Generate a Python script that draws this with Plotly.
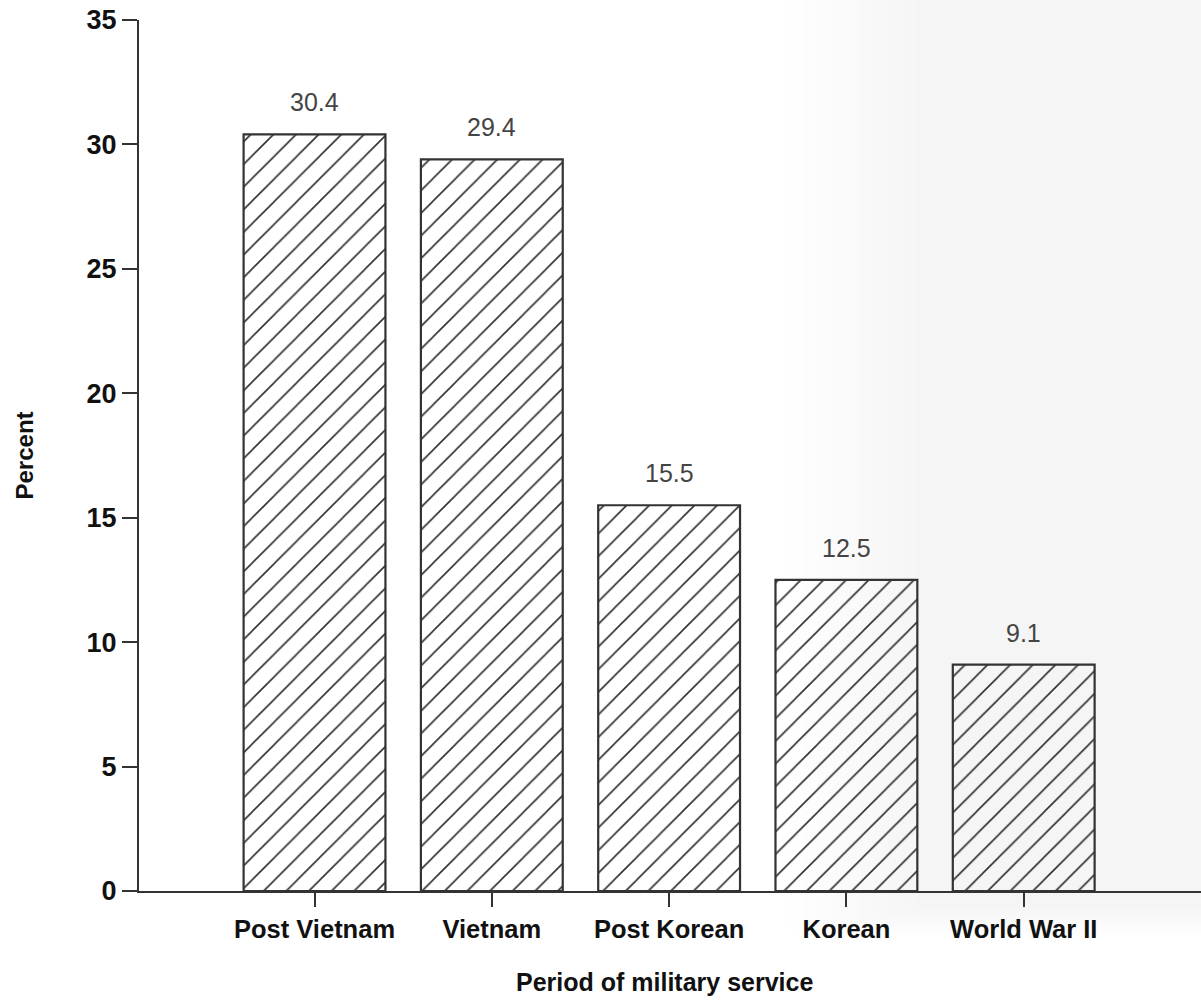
import plotly.graph_objects as go

categories = ["Post Vietnam", "Vietnam", "Post Korean", "Korean", "World War II"]
percent = [30.4, 29.4, 15.5, 12.5, 9.1]
value_labels = ["30.4", "29.4", "15.5", "12.5", "9.1"]
y_ticks = [0, 5, 10, 15, 20, 25, 30, 35]

W, H = 1201, 1001
ML, MR, MT, MB = 139, 0, 20, 110
PW = W - ML - MR
PH = H - MT - MB

def px_x(px):
    return (px - ML) / PW

def px_y(py):
    return (H - MB - py) / PH

ink = "#333333"
font_family = "Liberation Sans, Arial, Helvetica, sans-serif"

fig = go.Figure()
fig.add_trace(go.Bar(
    x=categories,
    y=percent,
    marker=dict(
        color="rgba(255,255,255,0)",
        line=dict(color=ink, width=2.2),
        pattern=dict(shape="/", size=16, solidity=0.1,
                     fgcolor="#303030", fgopacity=1,
                     bgcolor="rgba(255,255,255,0)",
                     fillmode="overlay"),
    ),
    hoverinfo="skip",
))

annotations = []
for c, v, t in zip(categories, percent, value_labels):
    annotations.append(dict(
        x=c, y=v, xref="x", yref="y", text=t, showarrow=False,
        yanchor="middle", yshift=32,
        font=dict(family=font_family, size=25, color="#444444"),
    ))

annotations.append(dict(
    x=px_x(24), y=0.5, xref="paper", yref="paper", text="Percent",
    showarrow=False, textangle=-90, xanchor="center", yanchor="middle",
    font=dict(family=font_family, size=24, color="#111", weight="bold"),
))
annotations.append(dict(
    x=px_x(664), y=px_y(982), xref="paper", yref="paper",
    text="Period of military service", showarrow=False,
    xanchor="center", yanchor="middle",
    font=dict(family=font_family, size=25, color="#111", weight="bold"),
))

# faint grey paper tone on the right side of the scan
shapes = []
n = 10
for i in range(n):
    x0 = 790 + i * 14
    shapes.append(dict(
        type="rect", xref="paper", yref="paper",
        x0=px_x(x0), x1=px_x(W + 5), y0=px_y(935 - i * 3), y1=px_y(-5),
        fillcolor="rgba(0,0,0,0.0058)", line=dict(width=0), layer="below",
    ))

fig.update_layout(
    width=W, height=H,
    margin=dict(l=ML, r=MR, t=MT, b=MB),
    paper_bgcolor="white", plot_bgcolor="rgba(0,0,0,0)",
    bargap=0.2,
    showlegend=False,
    annotations=annotations,
    shapes=shapes,
    xaxis=dict(
        type="category", range=[-0.99, 5.0],
        showline=True, linecolor=ink, linewidth=2.2,
        ticks="outside", ticklen=14, tickwidth=2, tickcolor=ink,
        showgrid=False, zeroline=False,
        tickfont=dict(family=font_family, size=25.5, color="#111", weight="bold"),
    ),
    yaxis=dict(
        range=[0, 35], tickvals=y_ticks,
        showline=True, linecolor=ink, linewidth=2.2,
        ticks="outside", ticklen=15, tickwidth=2, tickcolor=ink,
        showgrid=False, zeroline=False,
        tickfont=dict(family=font_family, size=27, color="#111", weight="bold"),
    ),
)

fig.write_html(
    "out.html",
    config={"displayModeBar": False},
    post_script="document.body.style.margin='0';document.body.style.overflow='hidden';",
)
